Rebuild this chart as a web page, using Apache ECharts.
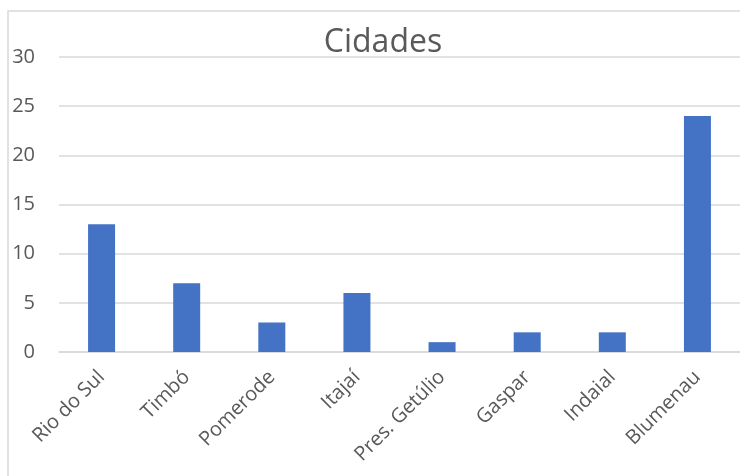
<!DOCTYPE html>
<html>
<head>
<meta charset="utf-8">
<script src="https://cdn.jsdelivr.net/npm/echarts@6/dist/echarts.min.js"></script>
<style>
html,body{margin:0;padding:0;background:#fff;}
#chart{width:740px;height:476px;}
</style>
</head>
<body>
<div id="chart"></div>
<script>
var cidades = ["Rio do Sul", "Timbó", "Pomerode", "Itajaí", "Pres. Getúlio", "Gaspar", "Indaial", "Blumenau"];
var valores = [13, 7, 3, 6, 1, 2, 2, 24];
var eixoMin = 0, eixoMax = 30, eixoPasso = 5;

var fonte = "'Open Sans', 'Noto Sans', sans-serif";
var chart = echarts.init(document.getElementById("chart"));
chart.setOption({
	animation: false,
	backgroundColor: "#fff",
	title: {
		text: "Cidades",
		left: 378, top: 22, textAlign: "center",
		textStyle: {fontFamily: fonte, fontSize: 32, fontWeight: "normal", color: "#595959"}
	},
	graphic: [{
		type: "rect", silent: true, z: -1,
		shape: {x: 8, y: 11, width: 800, height: 500},
		style: {fill: "none", stroke: "#d9d9d9", lineWidth: 1.5}
	}],
	grid: {left: 59, top: 57, width: 684, height: 295},
	xAxis: {
		type: "category", data: cidades,
		axisLine: {lineStyle: {color: "#d9d9d9", width: 1.5}},
		axisTick: {show: false},
		axisLabel: {rotate: 45, margin: 22, fontFamily: fonte, fontSize: 20, color: "#595959"}
	},
	yAxis: {
		type: "value", min: eixoMin, max: eixoMax, interval: eixoPasso,
		axisLine: {show: false}, axisTick: {show: false},
		splitLine: {lineStyle: {color: "#d9d9d9", width: 1.5}},
		axisLabel: {margin: 24, fontFamily: fonte, fontSize: 20, color: "#595959"}
	},
	series: [{
		type: "bar", data: valores, barWidth: 27,
		itemStyle: {color: "#4472C4"}
	}]
});
</script>
</body>
</html>
